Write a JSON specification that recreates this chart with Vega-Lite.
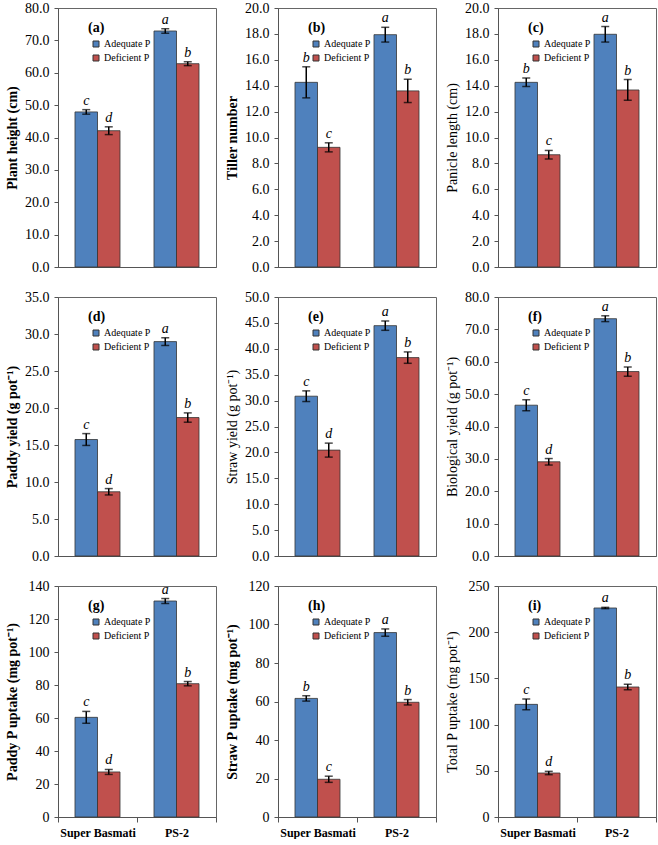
{
  "$schema": "https://vega.github.io/schema/vega-lite/v6.json",
  "padding": {"left": 4, "top": 0, "right": 0, "bottom": 0},
  "background": "white",
  "data": {"values": [
    {"panel": "a", "cultivar": "Super Basmati", "P": "Adequate P", "mean": 47.9, "lo": 47.2, "hi": 48.6, "letter": "c"},
    {"panel": "a", "cultivar": "Super Basmati", "P": "Deficient P", "mean": 42.1, "lo": 40.9, "hi": 43.3, "letter": "d"},
    {"panel": "a", "cultivar": "PS-2", "P": "Adequate P", "mean": 72.9, "lo": 72.2, "hi": 73.6, "letter": "a"},
    {"panel": "a", "cultivar": "PS-2", "P": "Deficient P", "mean": 62.8, "lo": 62.2, "hi": 63.4, "letter": "b"},
    {"panel": "b", "cultivar": "Super Basmati", "P": "Adequate P", "mean": 14.26, "lo": 13.06, "hi": 15.46, "letter": "b"},
    {"panel": "b", "cultivar": "Super Basmati", "P": "Deficient P", "mean": 9.24, "lo": 8.89, "hi": 9.59, "letter": "c"},
    {"panel": "b", "cultivar": "PS-2", "P": "Adequate P", "mean": 17.94, "lo": 17.37, "hi": 18.51, "letter": "a"},
    {"panel": "b", "cultivar": "PS-2", "P": "Deficient P", "mean": 13.6, "lo": 12.7, "hi": 14.5, "letter": "b"},
    {"panel": "c", "cultivar": "Super Basmati", "P": "Adequate P", "mean": 14.26, "lo": 13.93, "hi": 14.59, "letter": "b"},
    {"panel": "c", "cultivar": "Super Basmati", "P": "Deficient P", "mean": 8.67, "lo": 8.34, "hi": 9.0, "letter": "c"},
    {"panel": "c", "cultivar": "PS-2", "P": "Adequate P", "mean": 17.97, "lo": 17.37, "hi": 18.57, "letter": "a"},
    {"panel": "c", "cultivar": "PS-2", "P": "Deficient P", "mean": 13.67, "lo": 12.87, "hi": 14.47, "letter": "b"},
    {"panel": "d", "cultivar": "Super Basmati", "P": "Adequate P", "mean": 15.74, "lo": 14.94, "hi": 16.54, "letter": "c"},
    {"panel": "d", "cultivar": "Super Basmati", "P": "Deficient P", "mean": 8.68, "lo": 8.25, "hi": 9.11, "letter": "d"},
    {"panel": "d", "cultivar": "PS-2", "P": "Adequate P", "mean": 28.97, "lo": 28.45, "hi": 29.49, "letter": "a"},
    {"panel": "d", "cultivar": "PS-2", "P": "Deficient P", "mean": 18.71, "lo": 18.08, "hi": 19.34, "letter": "b"},
    {"panel": "e", "cultivar": "Super Basmati", "P": "Adequate P", "mean": 30.85, "lo": 29.82, "hi": 31.88, "letter": "c"},
    {"panel": "e", "cultivar": "Super Basmati", "P": "Deficient P", "mean": 20.44, "lo": 19.09, "hi": 21.79, "letter": "d"},
    {"panel": "e", "cultivar": "PS-2", "P": "Adequate P", "mean": 44.47, "lo": 43.57, "hi": 45.37, "letter": "a"},
    {"panel": "e", "cultivar": "PS-2", "P": "Deficient P", "mean": 38.3, "lo": 37.2, "hi": 39.4, "letter": "b"},
    {"panel": "f", "cultivar": "Super Basmati", "P": "Adequate P", "mean": 46.58, "lo": 44.88, "hi": 48.28, "letter": "c"},
    {"panel": "f", "cultivar": "Super Basmati", "P": "Deficient P", "mean": 29.1, "lo": 28.1, "hi": 30.1, "letter": "d"},
    {"panel": "f", "cultivar": "PS-2", "P": "Adequate P", "mean": 73.3, "lo": 72.4, "hi": 74.2, "letter": "a"},
    {"panel": "f", "cultivar": "PS-2", "P": "Deficient P", "mean": 56.97, "lo": 55.53, "hi": 58.41, "letter": "b"},
    {"panel": "g", "cultivar": "Super Basmati", "P": "Adequate P", "mean": 60.4, "lo": 56.8, "hi": 64.0, "letter": "c"},
    {"panel": "g", "cultivar": "Super Basmati", "P": "Deficient P", "mean": 27.3, "lo": 25.8, "hi": 28.8, "letter": "d"},
    {"panel": "g", "cultivar": "PS-2", "P": "Adequate P", "mean": 130.9, "lo": 129.4, "hi": 132.4, "letter": "a"},
    {"panel": "g", "cultivar": "PS-2", "P": "Deficient P", "mean": 80.8, "lo": 79.5, "hi": 82.1, "letter": "b"},
    {"panel": "h", "cultivar": "Super Basmati", "P": "Adequate P", "mean": 61.6, "lo": 60.2, "hi": 63.0, "letter": "b"},
    {"panel": "h", "cultivar": "Super Basmati", "P": "Deficient P", "mean": 19.6, "lo": 18.0, "hi": 21.2, "letter": "c"},
    {"panel": "h", "cultivar": "PS-2", "P": "Adequate P", "mean": 95.8, "lo": 93.9, "hi": 97.7, "letter": "a"},
    {"panel": "h", "cultivar": "PS-2", "P": "Deficient P", "mean": 59.6, "lo": 58.2, "hi": 61.0, "letter": "b"},
    {"panel": "i", "cultivar": "Super Basmati", "P": "Adequate P", "mean": 121.9, "lo": 116.1, "hi": 127.7, "letter": "c"},
    {"panel": "i", "cultivar": "Super Basmati", "P": "Deficient P", "mean": 47.6, "lo": 45.8, "hi": 49.4, "letter": "d"},
    {"panel": "i", "cultivar": "PS-2", "P": "Adequate P", "mean": 226.2, "lo": 225.5, "hi": 226.9, "letter": "a"},
    {"panel": "i", "cultivar": "PS-2", "P": "Deficient P", "mean": 140.7, "lo": 137.8, "hi": 143.6, "letter": "b"}
  ]},
  "columns": 3,
  "spacing": {"row": 30, "column": 62},
  "bounds": "flush",
  "resolve": {"scale": {"color": "independent", "y": "independent", "x": "independent", "xOffset": "independent"}, "legend": {"color": "independent"}},
  "concat": [
    {
      "width": 158, "height": 259, "title": "(a)",
      "transform": [{"filter": "datum.panel === 'a'"}],
      "encoding": {
        "x": {"field": "cultivar", "type": "nominal", "sort": ["Super Basmati", "PS-2"], "scale": {"paddingInner": 0, "paddingOuter": 0}, "axis": {"title": null, "labels": false, "ticks": false}},
        "xOffset": {"field": "P", "type": "nominal", "sort": ["Adequate P", "Deficient P"], "scale": {"paddingInner": 0, "paddingOuter": 0.755}}
      },
      "layer": [
        {"mark": {"type": "bar", "stroke": "#333333", "strokeWidth": 0.8},
         "encoding": {"y": {"field": "mean", "type": "quantitative", "title": "Plant height (cm)", "scale": {"domain": [0, 80], "nice": false}, "axis": {"values": [0, 10, 20, 30, 40, 50, 60, 70, 80], "format": ".1f", "labelOverlap": false, "titleFontWeight": "bold"}},
           "color": {"field": "P", "type": "nominal", "scale": {"domain": ["Adequate P", "Deficient P"], "range": ["#4F81BD", "#C0504D"]}, "legend": {"title": null, "orient": "none", "legendX": 33, "legendY": 31}}}},
        {"mark": {"type": "rule", "color": "black", "strokeWidth": 1.5}, "encoding": {"y": {"field": "lo", "type": "quantitative", "title": "Plant height (cm)", "axis": {"values": [0, 10, 20, 30, 40, 50, 60, 70, 80], "format": ".1f", "labelOverlap": false, "titleFontWeight": "bold"}}, "y2": {"field": "hi"}}},
        {"mark": {"type": "tick", "orient": "horizontal", "color": "black", "size": 8, "thickness": 1.5}, "encoding": {"y": {"field": "lo", "type": "quantitative", "title": "Plant height (cm)", "axis": {"values": [0, 10, 20, 30, 40, 50, 60, 70, 80], "format": ".1f", "labelOverlap": false, "titleFontWeight": "bold"}}}},
        {"mark": {"type": "tick", "orient": "horizontal", "color": "black", "size": 8, "thickness": 1.5}, "encoding": {"y": {"field": "hi", "type": "quantitative", "title": "Plant height (cm)", "axis": {"values": [0, 10, 20, 30, 40, 50, 60, 70, 80], "format": ".1f", "labelOverlap": false, "titleFontWeight": "bold"}}}},
        {"mark": {"type": "text", "font": "Liberation Serif", "fontStyle": "italic", "fontSize": 14, "baseline": "alphabetic", "dy": -5}, "encoding": {"y": {"field": "hi", "type": "quantitative", "title": "Plant height (cm)", "axis": {"values": [0, 10, 20, 30, 40, 50, 60, 70, 80], "format": ".1f", "labelOverlap": false, "titleFontWeight": "bold"}}, "text": {"field": "letter"}}}
      ]
    },
    {
      "width": 158, "height": 259, "title": "(b)",
      "transform": [{"filter": "datum.panel === 'b'"}],
      "encoding": {
        "x": {"field": "cultivar", "type": "nominal", "sort": ["Super Basmati", "PS-2"], "scale": {"paddingInner": 0, "paddingOuter": 0}, "axis": {"title": null, "labels": false, "ticks": false}},
        "xOffset": {"field": "P", "type": "nominal", "sort": ["Adequate P", "Deficient P"], "scale": {"paddingInner": 0, "paddingOuter": 0.755}}
      },
      "layer": [
        {"mark": {"type": "bar", "stroke": "#333333", "strokeWidth": 0.8},
         "encoding": {"y": {"field": "mean", "type": "quantitative", "title": "Tiller number", "scale": {"domain": [0, 20], "nice": false}, "axis": {"values": [0, 2, 4, 6, 8, 10, 12, 14, 16, 18, 20], "format": ".1f", "labelOverlap": false, "titleFontWeight": "bold"}},
           "color": {"field": "P", "type": "nominal", "scale": {"domain": ["Adequate P", "Deficient P"], "range": ["#4F81BD", "#C0504D"]}, "legend": {"title": null, "orient": "none", "legendX": 33, "legendY": 31}}}},
        {"mark": {"type": "rule", "color": "black", "strokeWidth": 1.5}, "encoding": {"y": {"field": "lo", "type": "quantitative", "title": "Tiller number", "axis": {"values": [0, 2, 4, 6, 8, 10, 12, 14, 16, 18, 20], "format": ".1f", "labelOverlap": false, "titleFontWeight": "bold"}}, "y2": {"field": "hi"}}},
        {"mark": {"type": "tick", "orient": "horizontal", "color": "black", "size": 8, "thickness": 1.5}, "encoding": {"y": {"field": "lo", "type": "quantitative", "title": "Tiller number", "axis": {"values": [0, 2, 4, 6, 8, 10, 12, 14, 16, 18, 20], "format": ".1f", "labelOverlap": false, "titleFontWeight": "bold"}}}},
        {"mark": {"type": "tick", "orient": "horizontal", "color": "black", "size": 8, "thickness": 1.5}, "encoding": {"y": {"field": "hi", "type": "quantitative", "title": "Tiller number", "axis": {"values": [0, 2, 4, 6, 8, 10, 12, 14, 16, 18, 20], "format": ".1f", "labelOverlap": false, "titleFontWeight": "bold"}}}},
        {"mark": {"type": "text", "font": "Liberation Serif", "fontStyle": "italic", "fontSize": 14, "baseline": "alphabetic", "dy": -5}, "encoding": {"y": {"field": "hi", "type": "quantitative", "title": "Tiller number", "axis": {"values": [0, 2, 4, 6, 8, 10, 12, 14, 16, 18, 20], "format": ".1f", "labelOverlap": false, "titleFontWeight": "bold"}}, "text": {"field": "letter"}}}
      ]
    },
    {
      "width": 158, "height": 259, "title": "(c)",
      "transform": [{"filter": "datum.panel === 'c'"}],
      "encoding": {
        "x": {"field": "cultivar", "type": "nominal", "sort": ["Super Basmati", "PS-2"], "scale": {"paddingInner": 0, "paddingOuter": 0}, "axis": {"title": null, "labels": false, "ticks": false}},
        "xOffset": {"field": "P", "type": "nominal", "sort": ["Adequate P", "Deficient P"], "scale": {"paddingInner": 0, "paddingOuter": 0.755}}
      },
      "layer": [
        {"mark": {"type": "bar", "stroke": "#333333", "strokeWidth": 0.8},
         "encoding": {"y": {"field": "mean", "type": "quantitative", "title": "Panicle length (cm)", "scale": {"domain": [0, 20], "nice": false}, "axis": {"values": [0, 2, 4, 6, 8, 10, 12, 14, 16, 18, 20], "format": ".1f", "labelOverlap": false, "titleFontWeight": "normal"}},
           "color": {"field": "P", "type": "nominal", "scale": {"domain": ["Adequate P", "Deficient P"], "range": ["#4F81BD", "#C0504D"]}, "legend": {"title": null, "orient": "none", "legendX": 33, "legendY": 31}}}},
        {"mark": {"type": "rule", "color": "black", "strokeWidth": 1.5}, "encoding": {"y": {"field": "lo", "type": "quantitative", "title": "Panicle length (cm)", "axis": {"values": [0, 2, 4, 6, 8, 10, 12, 14, 16, 18, 20], "format": ".1f", "labelOverlap": false, "titleFontWeight": "normal"}}, "y2": {"field": "hi"}}},
        {"mark": {"type": "tick", "orient": "horizontal", "color": "black", "size": 8, "thickness": 1.5}, "encoding": {"y": {"field": "lo", "type": "quantitative", "title": "Panicle length (cm)", "axis": {"values": [0, 2, 4, 6, 8, 10, 12, 14, 16, 18, 20], "format": ".1f", "labelOverlap": false, "titleFontWeight": "normal"}}}},
        {"mark": {"type": "tick", "orient": "horizontal", "color": "black", "size": 8, "thickness": 1.5}, "encoding": {"y": {"field": "hi", "type": "quantitative", "title": "Panicle length (cm)", "axis": {"values": [0, 2, 4, 6, 8, 10, 12, 14, 16, 18, 20], "format": ".1f", "labelOverlap": false, "titleFontWeight": "normal"}}}},
        {"mark": {"type": "text", "font": "Liberation Serif", "fontStyle": "italic", "fontSize": 14, "baseline": "alphabetic", "dy": -5}, "encoding": {"y": {"field": "hi", "type": "quantitative", "title": "Panicle length (cm)", "axis": {"values": [0, 2, 4, 6, 8, 10, 12, 14, 16, 18, 20], "format": ".1f", "labelOverlap": false, "titleFontWeight": "normal"}}, "text": {"field": "letter"}}}
      ]
    },
    {
      "width": 158, "height": 259, "title": "(d)",
      "transform": [{"filter": "datum.panel === 'd'"}],
      "encoding": {
        "x": {"field": "cultivar", "type": "nominal", "sort": ["Super Basmati", "PS-2"], "scale": {"paddingInner": 0, "paddingOuter": 0}, "axis": {"title": null, "labels": false, "ticks": false}},
        "xOffset": {"field": "P", "type": "nominal", "sort": ["Adequate P", "Deficient P"], "scale": {"paddingInner": 0, "paddingOuter": 0.755}}
      },
      "layer": [
        {"mark": {"type": "bar", "stroke": "#333333", "strokeWidth": 0.8},
         "encoding": {"y": {"field": "mean", "type": "quantitative", "title": "Paddy yield (g pot⁻¹)", "scale": {"domain": [0, 35], "nice": false}, "axis": {"values": [0, 5, 10, 15, 20, 25, 30, 35], "format": ".1f", "labelOverlap": false, "titleFontWeight": "bold"}},
           "color": {"field": "P", "type": "nominal", "scale": {"domain": ["Adequate P", "Deficient P"], "range": ["#4F81BD", "#C0504D"]}, "legend": {"title": null, "orient": "none", "legendX": 33, "legendY": 31}}}},
        {"mark": {"type": "rule", "color": "black", "strokeWidth": 1.5}, "encoding": {"y": {"field": "lo", "type": "quantitative", "title": "Paddy yield (g pot⁻¹)", "axis": {"values": [0, 5, 10, 15, 20, 25, 30, 35], "format": ".1f", "labelOverlap": false, "titleFontWeight": "bold"}}, "y2": {"field": "hi"}}},
        {"mark": {"type": "tick", "orient": "horizontal", "color": "black", "size": 8, "thickness": 1.5}, "encoding": {"y": {"field": "lo", "type": "quantitative", "title": "Paddy yield (g pot⁻¹)", "axis": {"values": [0, 5, 10, 15, 20, 25, 30, 35], "format": ".1f", "labelOverlap": false, "titleFontWeight": "bold"}}}},
        {"mark": {"type": "tick", "orient": "horizontal", "color": "black", "size": 8, "thickness": 1.5}, "encoding": {"y": {"field": "hi", "type": "quantitative", "title": "Paddy yield (g pot⁻¹)", "axis": {"values": [0, 5, 10, 15, 20, 25, 30, 35], "format": ".1f", "labelOverlap": false, "titleFontWeight": "bold"}}}},
        {"mark": {"type": "text", "font": "Liberation Serif", "fontStyle": "italic", "fontSize": 14, "baseline": "alphabetic", "dy": -5}, "encoding": {"y": {"field": "hi", "type": "quantitative", "title": "Paddy yield (g pot⁻¹)", "axis": {"values": [0, 5, 10, 15, 20, 25, 30, 35], "format": ".1f", "labelOverlap": false, "titleFontWeight": "bold"}}, "text": {"field": "letter"}}}
      ]
    },
    {
      "width": 158, "height": 259, "title": "(e)",
      "transform": [{"filter": "datum.panel === 'e'"}],
      "encoding": {
        "x": {"field": "cultivar", "type": "nominal", "sort": ["Super Basmati", "PS-2"], "scale": {"paddingInner": 0, "paddingOuter": 0}, "axis": {"title": null, "labels": false, "ticks": false}},
        "xOffset": {"field": "P", "type": "nominal", "sort": ["Adequate P", "Deficient P"], "scale": {"paddingInner": 0, "paddingOuter": 0.755}}
      },
      "layer": [
        {"mark": {"type": "bar", "stroke": "#333333", "strokeWidth": 0.8},
         "encoding": {"y": {"field": "mean", "type": "quantitative", "title": "Straw yield (g pot⁻¹)", "scale": {"domain": [0, 50], "nice": false}, "axis": {"values": [0, 5, 10, 15, 20, 25, 30, 35, 40, 45, 50], "format": ".1f", "labelOverlap": false, "titleFontWeight": "normal"}},
           "color": {"field": "P", "type": "nominal", "scale": {"domain": ["Adequate P", "Deficient P"], "range": ["#4F81BD", "#C0504D"]}, "legend": {"title": null, "orient": "none", "legendX": 33, "legendY": 31}}}},
        {"mark": {"type": "rule", "color": "black", "strokeWidth": 1.5}, "encoding": {"y": {"field": "lo", "type": "quantitative", "title": "Straw yield (g pot⁻¹)", "axis": {"values": [0, 5, 10, 15, 20, 25, 30, 35, 40, 45, 50], "format": ".1f", "labelOverlap": false, "titleFontWeight": "normal"}}, "y2": {"field": "hi"}}},
        {"mark": {"type": "tick", "orient": "horizontal", "color": "black", "size": 8, "thickness": 1.5}, "encoding": {"y": {"field": "lo", "type": "quantitative", "title": "Straw yield (g pot⁻¹)", "axis": {"values": [0, 5, 10, 15, 20, 25, 30, 35, 40, 45, 50], "format": ".1f", "labelOverlap": false, "titleFontWeight": "normal"}}}},
        {"mark": {"type": "tick", "orient": "horizontal", "color": "black", "size": 8, "thickness": 1.5}, "encoding": {"y": {"field": "hi", "type": "quantitative", "title": "Straw yield (g pot⁻¹)", "axis": {"values": [0, 5, 10, 15, 20, 25, 30, 35, 40, 45, 50], "format": ".1f", "labelOverlap": false, "titleFontWeight": "normal"}}}},
        {"mark": {"type": "text", "font": "Liberation Serif", "fontStyle": "italic", "fontSize": 14, "baseline": "alphabetic", "dy": -5}, "encoding": {"y": {"field": "hi", "type": "quantitative", "title": "Straw yield (g pot⁻¹)", "axis": {"values": [0, 5, 10, 15, 20, 25, 30, 35, 40, 45, 50], "format": ".1f", "labelOverlap": false, "titleFontWeight": "normal"}}, "text": {"field": "letter"}}}
      ]
    },
    {
      "width": 158, "height": 259, "title": "(f)",
      "transform": [{"filter": "datum.panel === 'f'"}],
      "encoding": {
        "x": {"field": "cultivar", "type": "nominal", "sort": ["Super Basmati", "PS-2"], "scale": {"paddingInner": 0, "paddingOuter": 0}, "axis": {"title": null, "labels": false, "ticks": false}},
        "xOffset": {"field": "P", "type": "nominal", "sort": ["Adequate P", "Deficient P"], "scale": {"paddingInner": 0, "paddingOuter": 0.755}}
      },
      "layer": [
        {"mark": {"type": "bar", "stroke": "#333333", "strokeWidth": 0.8},
         "encoding": {"y": {"field": "mean", "type": "quantitative", "title": "Biological yield (g pot⁻¹)", "scale": {"domain": [0, 80], "nice": false}, "axis": {"values": [0, 10, 20, 30, 40, 50, 60, 70, 80], "format": ".1f", "labelOverlap": false, "titleFontWeight": "normal"}},
           "color": {"field": "P", "type": "nominal", "scale": {"domain": ["Adequate P", "Deficient P"], "range": ["#4F81BD", "#C0504D"]}, "legend": {"title": null, "orient": "none", "legendX": 33, "legendY": 31}}}},
        {"mark": {"type": "rule", "color": "black", "strokeWidth": 1.5}, "encoding": {"y": {"field": "lo", "type": "quantitative", "title": "Biological yield (g pot⁻¹)", "axis": {"values": [0, 10, 20, 30, 40, 50, 60, 70, 80], "format": ".1f", "labelOverlap": false, "titleFontWeight": "normal"}}, "y2": {"field": "hi"}}},
        {"mark": {"type": "tick", "orient": "horizontal", "color": "black", "size": 8, "thickness": 1.5}, "encoding": {"y": {"field": "lo", "type": "quantitative", "title": "Biological yield (g pot⁻¹)", "axis": {"values": [0, 10, 20, 30, 40, 50, 60, 70, 80], "format": ".1f", "labelOverlap": false, "titleFontWeight": "normal"}}}},
        {"mark": {"type": "tick", "orient": "horizontal", "color": "black", "size": 8, "thickness": 1.5}, "encoding": {"y": {"field": "hi", "type": "quantitative", "title": "Biological yield (g pot⁻¹)", "axis": {"values": [0, 10, 20, 30, 40, 50, 60, 70, 80], "format": ".1f", "labelOverlap": false, "titleFontWeight": "normal"}}}},
        {"mark": {"type": "text", "font": "Liberation Serif", "fontStyle": "italic", "fontSize": 14, "baseline": "alphabetic", "dy": -5}, "encoding": {"y": {"field": "hi", "type": "quantitative", "title": "Biological yield (g pot⁻¹)", "axis": {"values": [0, 10, 20, 30, 40, 50, 60, 70, 80], "format": ".1f", "labelOverlap": false, "titleFontWeight": "normal"}}, "text": {"field": "letter"}}}
      ]
    },
    {
      "width": 158, "height": 231, "title": "(g)",
      "transform": [{"filter": "datum.panel === 'g'"}],
      "encoding": {
        "x": {"field": "cultivar", "type": "nominal", "sort": ["Super Basmati", "PS-2"], "scale": {"paddingInner": 0, "paddingOuter": 0}, "axis": {"title": null, "labels": true}},
        "xOffset": {"field": "P", "type": "nominal", "sort": ["Adequate P", "Deficient P"], "scale": {"paddingInner": 0, "paddingOuter": 0.755}}
      },
      "layer": [
        {"mark": {"type": "bar", "stroke": "#333333", "strokeWidth": 0.8},
         "encoding": {"y": {"field": "mean", "type": "quantitative", "title": "Paddy P uptake (mg pot⁻¹)", "scale": {"domain": [0, 140], "nice": false}, "axis": {"values": [0, 20, 40, 60, 80, 100, 120, 140], "format": "d", "labelOverlap": false, "titleFontWeight": "bold"}},
           "color": {"field": "P", "type": "nominal", "scale": {"domain": ["Adequate P", "Deficient P"], "range": ["#4F81BD", "#C0504D"]}, "legend": {"title": null, "orient": "none", "legendX": 33, "legendY": 31}}}},
        {"mark": {"type": "rule", "color": "black", "strokeWidth": 1.5}, "encoding": {"y": {"field": "lo", "type": "quantitative", "title": "Paddy P uptake (mg pot⁻¹)", "axis": {"values": [0, 20, 40, 60, 80, 100, 120, 140], "format": "d", "labelOverlap": false, "titleFontWeight": "bold"}}, "y2": {"field": "hi"}}},
        {"mark": {"type": "tick", "orient": "horizontal", "color": "black", "size": 8, "thickness": 1.5}, "encoding": {"y": {"field": "lo", "type": "quantitative", "title": "Paddy P uptake (mg pot⁻¹)", "axis": {"values": [0, 20, 40, 60, 80, 100, 120, 140], "format": "d", "labelOverlap": false, "titleFontWeight": "bold"}}}},
        {"mark": {"type": "tick", "orient": "horizontal", "color": "black", "size": 8, "thickness": 1.5}, "encoding": {"y": {"field": "hi", "type": "quantitative", "title": "Paddy P uptake (mg pot⁻¹)", "axis": {"values": [0, 20, 40, 60, 80, 100, 120, 140], "format": "d", "labelOverlap": false, "titleFontWeight": "bold"}}}},
        {"mark": {"type": "text", "font": "Liberation Serif", "fontStyle": "italic", "fontSize": 14, "baseline": "alphabetic", "dy": -5}, "encoding": {"y": {"field": "hi", "type": "quantitative", "title": "Paddy P uptake (mg pot⁻¹)", "axis": {"values": [0, 20, 40, 60, 80, 100, 120, 140], "format": "d", "labelOverlap": false, "titleFontWeight": "bold"}}, "text": {"field": "letter"}}}
      ]
    },
    {
      "width": 158, "height": 231, "title": "(h)",
      "transform": [{"filter": "datum.panel === 'h'"}],
      "encoding": {
        "x": {"field": "cultivar", "type": "nominal", "sort": ["Super Basmati", "PS-2"], "scale": {"paddingInner": 0, "paddingOuter": 0}, "axis": {"title": null, "labels": true}},
        "xOffset": {"field": "P", "type": "nominal", "sort": ["Adequate P", "Deficient P"], "scale": {"paddingInner": 0, "paddingOuter": 0.755}}
      },
      "layer": [
        {"mark": {"type": "bar", "stroke": "#333333", "strokeWidth": 0.8},
         "encoding": {"y": {"field": "mean", "type": "quantitative", "title": "Straw P uptake (mg pot⁻¹)", "scale": {"domain": [0, 120], "nice": false}, "axis": {"values": [0, 20, 40, 60, 80, 100, 120], "format": "d", "labelOverlap": false, "titleFontWeight": "bold"}},
           "color": {"field": "P", "type": "nominal", "scale": {"domain": ["Adequate P", "Deficient P"], "range": ["#4F81BD", "#C0504D"]}, "legend": {"title": null, "orient": "none", "legendX": 33, "legendY": 31}}}},
        {"mark": {"type": "rule", "color": "black", "strokeWidth": 1.5}, "encoding": {"y": {"field": "lo", "type": "quantitative", "title": "Straw P uptake (mg pot⁻¹)", "axis": {"values": [0, 20, 40, 60, 80, 100, 120], "format": "d", "labelOverlap": false, "titleFontWeight": "bold"}}, "y2": {"field": "hi"}}},
        {"mark": {"type": "tick", "orient": "horizontal", "color": "black", "size": 8, "thickness": 1.5}, "encoding": {"y": {"field": "lo", "type": "quantitative", "title": "Straw P uptake (mg pot⁻¹)", "axis": {"values": [0, 20, 40, 60, 80, 100, 120], "format": "d", "labelOverlap": false, "titleFontWeight": "bold"}}}},
        {"mark": {"type": "tick", "orient": "horizontal", "color": "black", "size": 8, "thickness": 1.5}, "encoding": {"y": {"field": "hi", "type": "quantitative", "title": "Straw P uptake (mg pot⁻¹)", "axis": {"values": [0, 20, 40, 60, 80, 100, 120], "format": "d", "labelOverlap": false, "titleFontWeight": "bold"}}}},
        {"mark": {"type": "text", "font": "Liberation Serif", "fontStyle": "italic", "fontSize": 14, "baseline": "alphabetic", "dy": -5}, "encoding": {"y": {"field": "hi", "type": "quantitative", "title": "Straw P uptake (mg pot⁻¹)", "axis": {"values": [0, 20, 40, 60, 80, 100, 120], "format": "d", "labelOverlap": false, "titleFontWeight": "bold"}}, "text": {"field": "letter"}}}
      ]
    },
    {
      "width": 158, "height": 231, "title": "(i)",
      "transform": [{"filter": "datum.panel === 'i'"}],
      "encoding": {
        "x": {"field": "cultivar", "type": "nominal", "sort": ["Super Basmati", "PS-2"], "scale": {"paddingInner": 0, "paddingOuter": 0}, "axis": {"title": null, "labels": true}},
        "xOffset": {"field": "P", "type": "nominal", "sort": ["Adequate P", "Deficient P"], "scale": {"paddingInner": 0, "paddingOuter": 0.755}}
      },
      "layer": [
        {"mark": {"type": "bar", "stroke": "#333333", "strokeWidth": 0.8},
         "encoding": {"y": {"field": "mean", "type": "quantitative", "title": "Total P uptake (mg pot⁻¹)", "scale": {"domain": [0, 250], "nice": false}, "axis": {"values": [0, 50, 100, 150, 200, 250], "format": "d", "labelOverlap": false, "titleFontWeight": "normal"}},
           "color": {"field": "P", "type": "nominal", "scale": {"domain": ["Adequate P", "Deficient P"], "range": ["#4F81BD", "#C0504D"]}, "legend": {"title": null, "orient": "none", "legendX": 33, "legendY": 31}}}},
        {"mark": {"type": "rule", "color": "black", "strokeWidth": 1.5}, "encoding": {"y": {"field": "lo", "type": "quantitative", "title": "Total P uptake (mg pot⁻¹)", "axis": {"values": [0, 50, 100, 150, 200, 250], "format": "d", "labelOverlap": false, "titleFontWeight": "normal"}}, "y2": {"field": "hi"}}},
        {"mark": {"type": "tick", "orient": "horizontal", "color": "black", "size": 8, "thickness": 1.5}, "encoding": {"y": {"field": "lo", "type": "quantitative", "title": "Total P uptake (mg pot⁻¹)", "axis": {"values": [0, 50, 100, 150, 200, 250], "format": "d", "labelOverlap": false, "titleFontWeight": "normal"}}}},
        {"mark": {"type": "tick", "orient": "horizontal", "color": "black", "size": 8, "thickness": 1.5}, "encoding": {"y": {"field": "hi", "type": "quantitative", "title": "Total P uptake (mg pot⁻¹)", "axis": {"values": [0, 50, 100, 150, 200, 250], "format": "d", "labelOverlap": false, "titleFontWeight": "normal"}}}},
        {"mark": {"type": "text", "font": "Liberation Serif", "fontStyle": "italic", "fontSize": 14, "baseline": "alphabetic", "dy": -5}, "encoding": {"y": {"field": "hi", "type": "quantitative", "title": "Total P uptake (mg pot⁻¹)", "axis": {"values": [0, 50, 100, 150, 200, 250], "format": "d", "labelOverlap": false, "titleFontWeight": "normal"}}, "text": {"field": "letter"}}}
      ]
    }
  ],
  "config": {
    "font": "Liberation Serif",
    "view": {"stroke": "#666666", "strokeWidth": 1},
    "title": {"font": "Liberation Serif", "fontSize": 14, "fontWeight": "bold", "color": "black", "anchor": "start", "frame": "group", "baseline": "top", "offset": -34, "dx": 30},
    "axisY": {"labelFont": "Liberation Serif", "labelFontSize": 14, "labelColor": "black", "labelOverlap": false, "titleFont": "Liberation Serif", "titleFontSize": 14, "titleColor": "black", "tickSize": 4, "labelPadding": 5, "minExtent": 36, "maxExtent": 36, "titlePadding": 3, "grid": false, "domainColor": "#555555", "tickColor": "#555555"},
    "axisX": {"labelFont": "Liberation Serif", "labelFontSize": 12, "labelFontWeight": "bold", "labelColor": "black", "tickBand": "extent", "tickSize": 5, "labelPadding": 5, "labelAngle": 0, "domainColor": "#555555", "tickColor": "#555555", "grid": false},
    "legend": {"labelFont": "Liberation Serif", "labelFontSize": 10, "labelColor": "black", "symbolType": "square", "symbolSize": 36, "symbolStrokeColor": "#333333", "symbolStrokeWidth": 1, "rowPadding": 4, "labelOffset": 3}
  }
}
